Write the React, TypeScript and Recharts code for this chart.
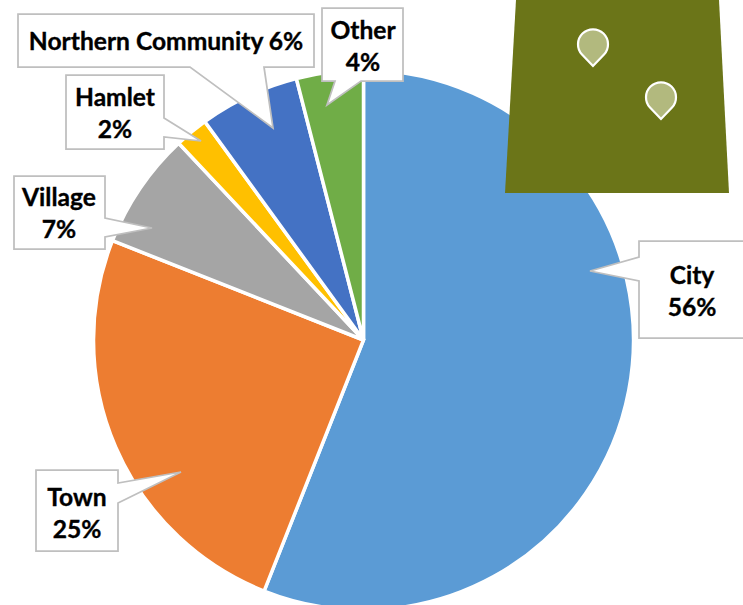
import React from "react";
import { PieChart, Pie, Cell } from "recharts";

const categories = ["City", "Town", "Village", "Hamlet", "Northern Community", "Other"];
const shares = [56, 25, 7, 2, 6, 4];
const colors = ["#5b9bd5", "#ed7d31", "#a5a5a5", "#ffc000", "#4472c4", "#70ad47"];
const rows = categories.map((name, i) => ({ name, value: shares[i] }));

// Callout layout: outline of each box with its pointer, and text anchor
const calloutPaths = [
  "M639 241 H745 V338 H639 V281 L590 271 L639 257 Z",
  "M36 470 H118 V483 L181 472 L118 503 V551 H36 Z",
  "M14 176 H105 V218 L152 228 L105 237 V249 H14 Z",
  "M66 75 H164 V118 L201 141 L164 137 V149 H66 Z",
  "M18 14 H314 V67 H264 L273 128 L190 67 H18 Z",
  "M322 8 H403 V81 H361 L327 105 L335 81 H322 Z",
];
const calloutText = [
  { x: 692, y: 274, oneLine: false },
  { x: 77, y: 496, oneLine: false },
  { x: 59, y: 196, oneLine: false },
  { x: 115, y: 96, oneLine: false },
  { x: 166, y: 40, oneLine: true },
  { x: 363, y: 29, oneLine: false },
];
const FONT = "Lato, 'Noto Sans', sans-serif";
const textStyle = { fontFamily: FONT, fontSize: 24.6, fontWeight: 700, fill: "#000", stroke: "#000", strokeWidth: 0.35 };

function Callout(props: any) {
  const { index, name, value } = props;
  const t = calloutText[index];
  const pct = `${value}%`;
  return (
    <g>
      <path d={calloutPaths[index]} fill="#fff" stroke="#bfbfbf" strokeWidth={1.75} />
      {t.oneLine ? (
        <text x={t.x} y={t.y} textAnchor="middle" dominantBaseline="central" style={textStyle}>
          {`${name} ${pct}`}
        </text>
      ) : (
        <>
          <text x={t.x} y={t.y} textAnchor="middle" dominantBaseline="central" style={textStyle}>
            {name}
          </text>
          <text x={t.x} y={t.y + 32} textAnchor="middle" dominantBaseline="central" style={textStyle}>
            {pct}
          </text>
        </>
      )}
    </g>
  );
}

const pinPath = (x: number, y: number) =>
  `M${x} ${y + 22} L${x - 11} ${y + 10.5} A15 15 0 1 1 ${x + 11} ${y + 10.5} Z`;

export default function App() {
  return (
    <div style={{ position: "absolute", left: 0, top: 0, width: 743, height: 605, overflow: "hidden", background: "#fff" }}>
      <PieChart width={743} height={605} margin={{ top: 0, right: 0, bottom: 0, left: 0 }}>
        <Pie
          data={rows}
          dataKey="value"
          nameKey="name"
          cx={363.5}
          cy={340}
          innerRadius={0}
          outerRadius={270}
          startAngle={90}
          endAngle={-270}
          stroke="#fff"
          strokeWidth={3.5}
          isAnimationActive={false}
          labelLine={false}
          label={Callout}
        >
          {rows.map((r, i) => (
            <Cell key={r.name} fill={colors[i]} />
          ))}
        </Pie>
      </PieChart>
      <svg width={743} height={605} style={{ position: "absolute", left: 0, top: 0, pointerEvents: "none" }}>
        <polygon points="516,0 719,0 729,193 505,193" fill="#6b7518" />
        <path d={pinPath(593, 44)} fill="#b2b97e" stroke="#fff" strokeWidth={2.2} strokeLinejoin="miter" />
        <path d={pinPath(661, 97)} fill="#b2b97e" stroke="#fff" strokeWidth={2.2} strokeLinejoin="miter" />
      </svg>
    </div>
  );
}
